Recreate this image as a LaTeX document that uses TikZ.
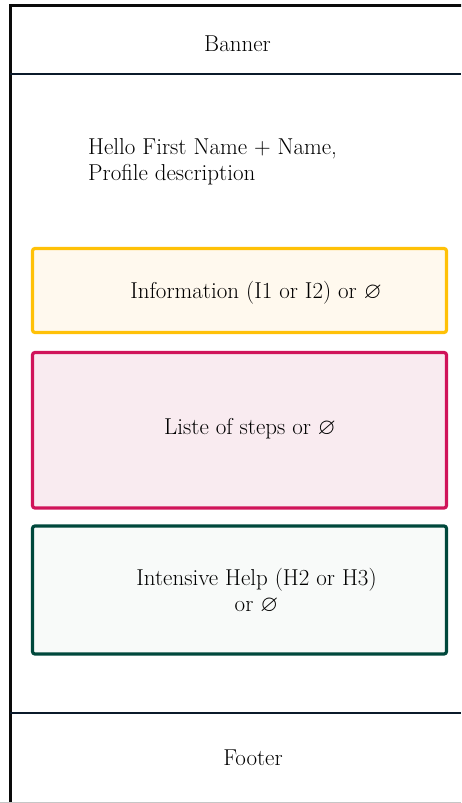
\documentclass[tikz,border=0pt]{standalone}
\usepackage{amssymb}
\definecolor{frameblack}{HTML}{0A0A0A}
\definecolor{rulenavy}{HTML}{0B1A2A}
\definecolor{amberline}{HTML}{FFC107}
\definecolor{amberfill}{HTML}{FFF9EE}
\definecolor{roseline}{HTML}{D0145A}
\definecolor{rosefill}{HTML}{F9EBF0}
\definecolor{tealline}{HTML}{00483C}
\definecolor{tealfill}{HTML}{F8FAF9}
\begin{document}
\begin{tikzpicture}[x=1pt,y=-1pt,
  every node/.style={font=\fontsize{23}{25.5}\selectfont, inner sep=0pt},
  panel/.style={draw, line width=3.2pt, rounded corners=2.5pt, minimum width=414pt},
  sepline/.style={draw=rulenavy, line width=1.6pt}]
  \useasboundingbox (0,0) rectangle (461,803);
  % page frame, running off the right edge
  \begin{scope}
    \clip (0,0) rectangle (461,803);
    \draw[frameblack, line width=3.5pt] (10.5,5.5) rectangle (480,830);
    \draw[gray!45, line width=1.2pt] (0,802.4) -- (461,802.4);
  \end{scope}
  % banner and footer separators
  \draw[sepline] (10,74) -- (461,74);
  \draw[sepline] (10,713) -- (461,713);
  \node (banner) at (237.5,44) {Banner};
  \node[anchor=base west, align=left] (hello) at (88,180)
    {Hello First Name + Name,\\Profile description};
  % content panels
  \node[panel, draw=amberline, fill=amberfill, minimum height=84pt]
    (info) at (239.5,290.5) {};
  \node[panel, draw=roseline, fill=rosefill, minimum height=155.5pt]
    (steps) at (239.5,430.25) {};
  \node[panel, draw=tealline, fill=tealfill, minimum height=128pt]
    (help) at (239.5,590) {};
  \node (infotext) at (256,293) {Information (I1 or I2) or $\varnothing$};
  \node (stepstext) at (250,429) {Liste of steps or $\varnothing$};
  \node[align=center] (helptext) at (256.5,591) {Intensive Help (H2 or H3)\\or $\varnothing$};
  \node (footer) at (253,758) {Footer};
\end{tikzpicture}
\end{document}
